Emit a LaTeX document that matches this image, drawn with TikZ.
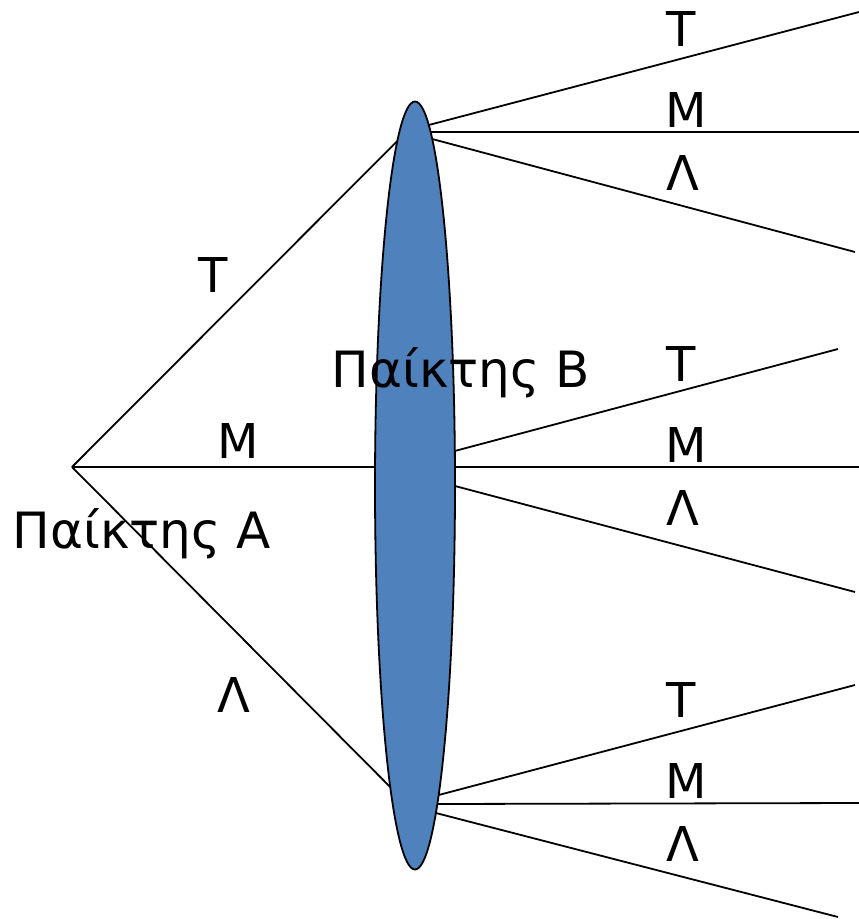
\documentclass[tikz,border=0pt]{standalone}
\usepackage{fontspec}
\setmainfont{DejaVu Sans}
\usetikzlibrary{shapes.geometric}

\definecolor{ellblue}{RGB}{79,129,189}

\begin{document}
\begin{tikzpicture}[x=1pt, y=-1pt,
    branch/.style={line width=1.8pt},
    lbl/.style={anchor=base, inner sep=0pt, font=\fontsize{48}{48}\selectfont},
    player/.style={anchor=base, inner sep=0pt, font=\fontsize{50}{50}\selectfont}]
  \useasboundingbox (0,0) rectangle (859,919);

  % 参与者 B 的信息集（椭圆）
  \node[ellipse, draw, line width=1.8pt, fill=ellblue, inner sep=0pt,
        minimum width=80pt, minimum height=768pt] (playerB) at (415,485.5) {};
  \node[player] (nameB) at (461,387) {Παίκτης Β};

  % 参与者 A（根节点）
  \coordinate (playerA) at (72,467);
  \node[player] (nameA) at (142,548) {Παίκτης Α};

  % 椭圆边上的点
  \coordinate (inT) at (397.3,141);
  \coordinate (inM) at (375,467);
  \coordinate (inL) at (390.2,787);
  \coordinate (outTT) at (428.8,125);
  \coordinate (outTM) at (430.6,132);
  \coordinate (outTL) at (432.2,139);
  \coordinate (outMT) at (454.8,451);
  \coordinate (outMM) at (455,467);
  \coordinate (outML) at (455,486);
  \coordinate (outLT) at (438.7,795);
  \coordinate (outLM) at (437.3,804);
  \coordinate (outLL) at (435.9,813);

  % A 的选择
  \node[lbl] (aT) at (213,292) {Τ};
  \node[lbl] (aM) at (238,458) {Μ};
  \node[lbl] (aL) at (234,712) {Λ};
  \draw[branch] (playerA) -- (inT);
  \draw[branch] (playerA) -- (inM);
  \draw[branch] (playerA) -- (inL);

  % 终点
  \coordinate (endTT) at (859,12);
  \coordinate (endTM) at (859,132);
  \coordinate (endTL) at (855,252);
  \coordinate (endMT) at (838,349);
  \coordinate (endMM) at (859,467);
  \coordinate (endML) at (855,592);
  \coordinate (endLT) at (855,685);
  \coordinate (endLM) at (859,803);
  \coordinate (endLL) at (838,917);

  % B 的选择（上）
  \draw[branch] (outTT) -- (endTT);
  \draw[branch] (outTM) -- (endTM);
  \draw[branch] (outTL) -- (endTL);
  \node[lbl] (bTT) at (681,46) {Τ};
  \node[lbl] (bTM) at (686,127) {Μ};
  \node[lbl] (bTL) at (683,190) {Λ};

  % B 的选择（中）
  \draw[branch] (outMT) -- (endMT);
  \draw[branch] (outMM) -- (endMM);
  \draw[branch] (outML) -- (endML);
  \node[lbl] (bMT) at (681,381) {Τ};
  \node[lbl] (bMM) at (686,462) {Μ};
  \node[lbl] (bML) at (683,525) {Λ};

  % B 的选择（下）
  \draw[branch] (outLT) -- (endLT);
  \draw[branch] (outLM) -- (endLM);
  \draw[branch] (outLL) -- (endLL);
  \node[lbl] (bLT) at (681,717) {Τ};
  \node[lbl] (bLM) at (686,798) {Μ};
  \node[lbl] (bLL) at (683,861) {Λ};
\end{tikzpicture}
\end{document}
